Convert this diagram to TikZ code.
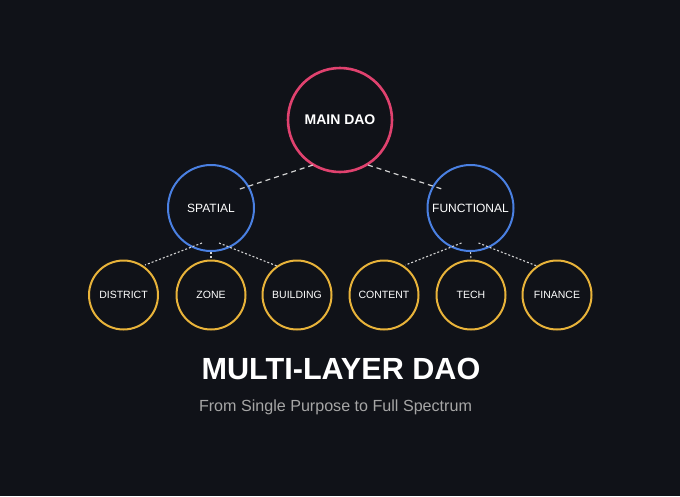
\documentclass[tikz,border=0pt]{standalone}
\usepackage{fontspec}
\setmainfont{Liberation Sans}
\usetikzlibrary{calc}
\definecolor{bgc}{HTML}{101218}
\definecolor{mainc}{HTML}{E0426F}
\definecolor{bluec}{HTML}{4A80E2}
\definecolor{yelc}{HTML}{E8B33A}
\definecolor{linec}{HTML}{D2D2D2}
\definecolor{subc}{HTML}{A6A6A6}
\begin{document}
\begin{tikzpicture}[x=1pt,y=-1pt,
  mainnode/.style={circle,draw=mainc,line width=2.6pt,minimum size=104pt,inner sep=0pt,text=white,font=\fontsize{14}{16}\selectfont\bfseries},
  midnode/.style={circle,draw=bluec,line width=2pt,minimum size=86pt,inner sep=0pt,text=white,font=\fontsize{12}{14}\selectfont},
  leafnode/.style={circle,draw=yelc,line width=2pt,minimum size=69pt,inner sep=0pt,text=white,font=\fontsize{10.5}{12}\selectfont},
  toplink/.style={draw=linec,line width=1.2pt,dash pattern=on 5pt off 4pt},
  leaflink/.style={draw=linec,line width=1.1pt,dash pattern=on 2pt off 2pt}]
\fill[bgc] (0,0) rectangle (680,496);
\useasboundingbox (0,0) rectangle (680,496);
\node[mainnode] (main) at (340,120) {MAIN DAO};
\node[midnode] (spatial) at (211,208) {SPATIAL};
\node[midnode] (functional) at (470.5,208) {FUNCTIONAL};
\node[leafnode] (district) at (123.5,295) {DISTRICT};
\node[leafnode] (zone) at (211,295) {ZONE};
\node[leafnode] (building) at (297,295) {BUILDING};
\node[leafnode] (content) at (384,295) {CONTENT};
\node[leafnode] (tech) at (471,295) {TECH};
\node[leafnode] (finance) at (557,295) {FINANCE};
\node[text=white,font=\fontsize{30.6}{34}\selectfont\bfseries] (title) at (341,368.5) {MULTI-LAYER DAO};
\node[text=subc,font=\fontsize{16.1}{18}\selectfont] (sub) at (335.5,407) {From Single Purpose to Full Spectrum};
% connectors
\draw[toplink] ($(main.center)+(-27,45)$) -- ($(spatial.center)+(26,-18)$);
\draw[toplink] ($(main.center)+(28,45)$) -- ($(functional.center)+(-25.5,-18)$);
\draw[leaflink] ($(spatial.center)+(-9,35)$) -- ($(district.center)+(21.5,-30)$);
\draw[leaflink] ($(spatial.center)+(0,44)$) -- ($(zone.center)+(0,-36)$);
\draw[leaflink] ($(spatial.center)+(8,35)$) -- ($(building.center)+(-20,-29)$);
\draw[leaflink] ($(functional.center)+(-9,35)$) -- ($(content.center)+(21.5,-30)$);
\draw[leaflink] ($(functional.center)+(0,44)$) -- ($(tech.center)+(0,-36)$);
\draw[leaflink] ($(functional.center)+(8,35)$) -- ($(finance.center)+(-20,-29)$);
\end{tikzpicture}
\end{document}
